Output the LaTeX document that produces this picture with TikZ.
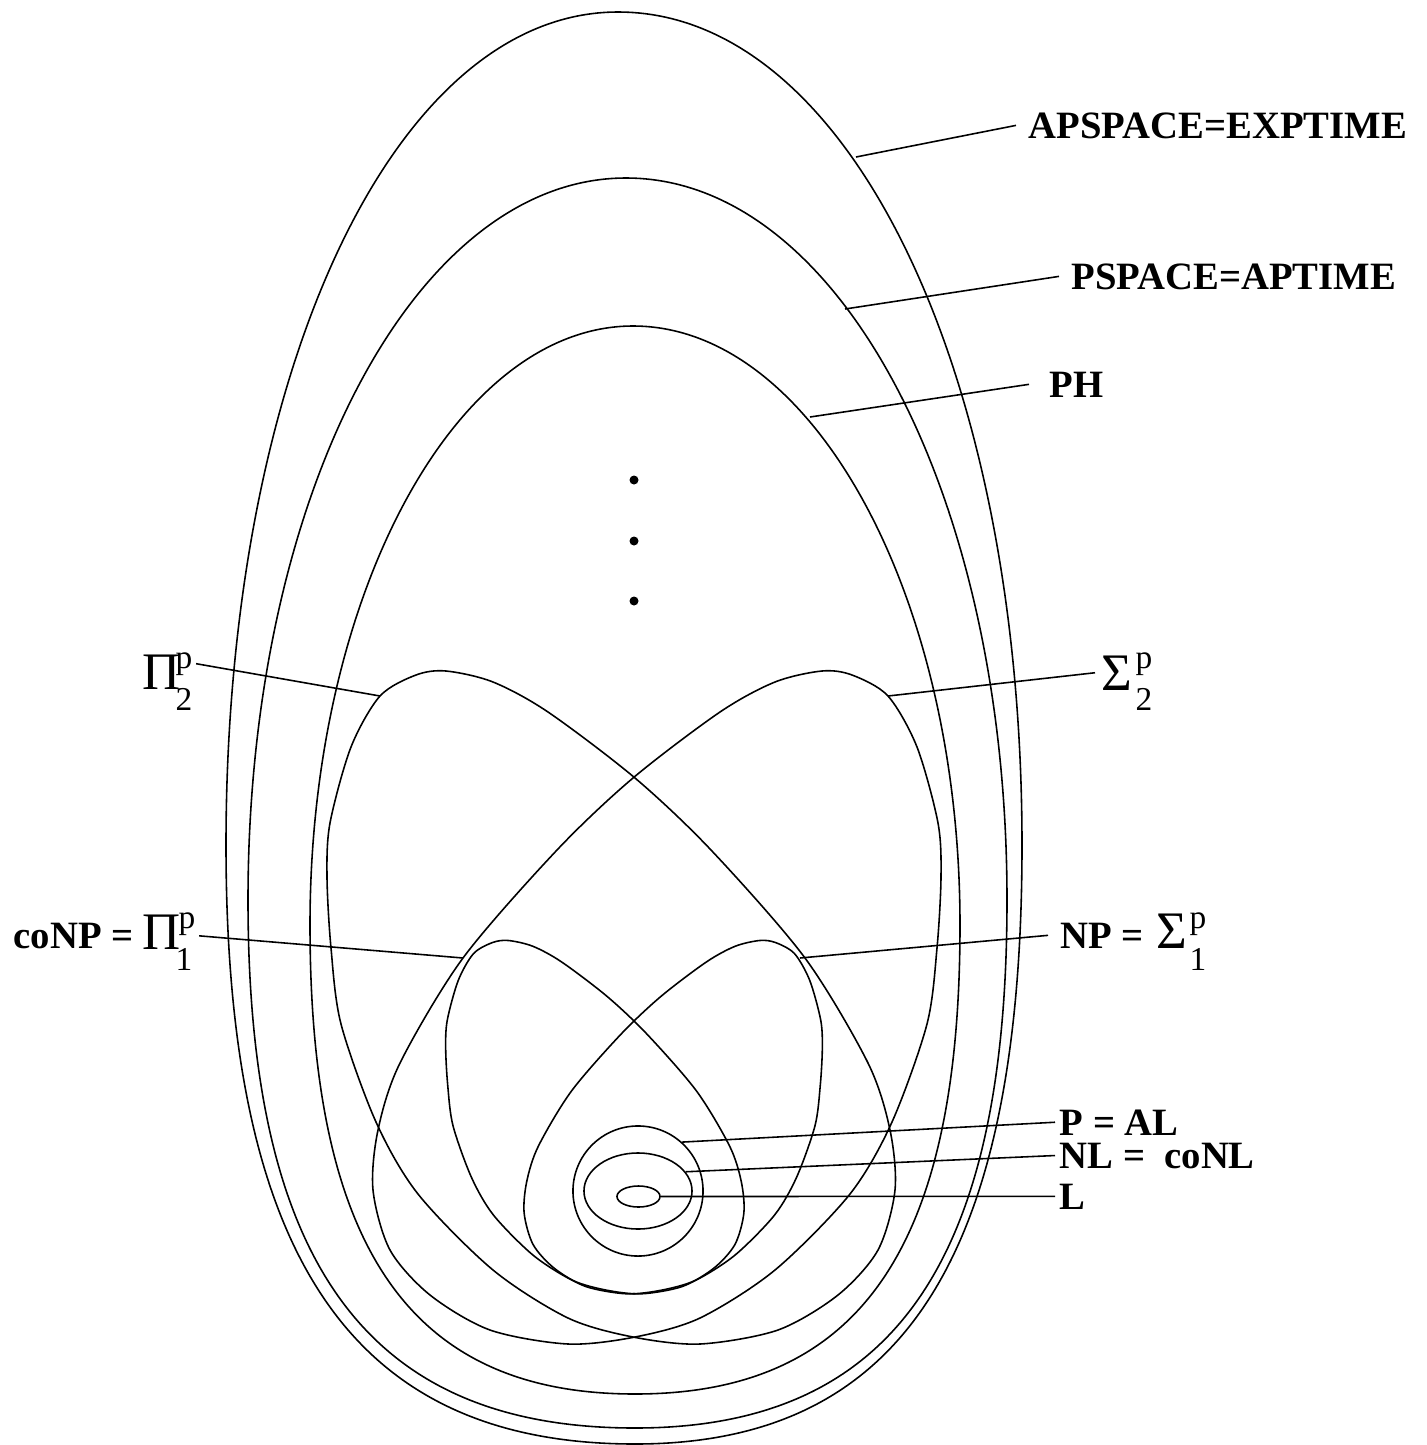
\documentclass[tikz,border=0pt]{standalone}
\usepackage{fontspec}
\setmainfont{Liberation Serif}
\usetikzlibrary{shapes.geometric}
% egg: top x, top y, left x, right x, widest y, bottom x, bottom y, upper and lower roundness
\newcommand{\egg}[9]{(#1,#2)
  .. controls ({#1+#8*(#4-#1)},#2) and (#4,{#5-#8*(#5-#2)}) .. (#4,#5)
  .. controls (#4,{#5+#9*(#7-#5)}) and ({#6+#9*(#4-#6)},#7) .. (#6,#7)
  .. controls ({#6-#9*(#6-#3)},#7) and (#3,{#5+#9*(#7-#5)}) .. (#3,#5)
  .. controls (#3,{#5-#8*(#5-#2)}) and ({#1-#8*(#1-#3)},#2) .. cycle}
% outline shared by Sigma_2, Pi_2, NP and coNP
\newcommand{\sigmaegg}{plot[smooth cycle] coordinates {
  (822,671) (852,675) (888,696) (917,747) (938,823) (941,877) (937,948)
  (927,1024) (892,1122) (850,1194) (775,1270) (700,1318) (635,1337)
  (568,1344) (490,1330) (430,1295) (390,1250) (373,1190) (378,1130)
  (400,1063) (463,958) (557,850) (633,778) (720,712) (775,682)}}
\tikzset{
  cc/egg/.style={line width=0.45pt},
  cc/lead/.style={line width=0.45pt},
  cc/ring/.style={draw, line width=0.45pt, inner sep=0pt},
  cc/label/.style={font=\bfseries\fontsize{11}{13}\selectfont, inner xsep=0.12cm, inner ysep=0.03cm},
  cc/sym/.style={font=\fontsize{15}{17}\selectfont, inner sep=0pt},
  cc/script/.style={font=\fontsize{9.5}{11}\selectfont, inner sep=0pt}
}

\begin{document}
\begin{tikzpicture}[x=0.01cm,y=-0.01cm]
  \useasboundingbox (0,0) rectangle (1427,1445);

  % APSPACE, PSPACE, PH
  \draw[cc/egg] \egg{618}{12}{226}{1022}{845}{635}{1444}{0.57}{0.69};
  \draw[cc/egg] \egg{626}{178}{248}{1007}{900}{635}{1428}{0.56}{0.69};
  \draw[cc/egg] \egg{633}{326}{310}{960}{925}{635}{1394}{0.55}{0.69};

  % second and first level
  \draw[cc/egg] \sigmaegg;
  \begin{scope}[shift={(1268,0)}, xscale=-1]
    \draw[cc/egg] \sigmaegg;
  \end{scope}
  \begin{scope}[shift={(763,941)}, scale=0.525, shift={(-828,-672)}]
    \draw[cc/egg] \sigmaegg;
  \end{scope}
  \begin{scope}[shift={(1268,0)}, xscale=-1, shift={(763,941)}, scale=0.525, shift={(-828,-672)}]
    \draw[cc/egg] \sigmaegg;
  \end{scope}

  % P, NL, L
  \node[cc/ring, circle, minimum size=1.3cm] (pal) at (638,1191) {};
  \node[cc/ring, ellipse, minimum width=1.08cm, minimum height=0.76cm] (nl) at (638,1191) {};
  \node[cc/ring, ellipse, minimum width=0.43cm, minimum height=0.21cm] (l) at (638.5,1196.5) {};

  % dots
  \foreach \y in {480,541,601}
    \fill (634,\y) circle [radius=0.045cm];

  % where the leaders touch
  \coordinate (aps-t) at (856,157);
  \coordinate (psp-t) at (845,309);
  \coordinate (ph-t) at (810,417);
  \coordinate (pitwo-t) at (380,696);
  \coordinate (sigtwo-t) at (888,696);
  \coordinate (pione-t) at (463,958);
  \coordinate (sigone-t) at (800,958);

  % labels
  \node[cc/label, anchor=base west] (apslab) at (1016,138) {APSPACE=EXPTIME};
  \node[cc/label, anchor=base west] (psplab) at (1059,289) {PSPACE=APTIME};
  \node[cc/label, anchor=base west, inner xsep=0.2cm] (phlab) at (1029,397) {PH};

  \node[cc/sym, anchor=base west] (pitwo) at (142,689) {Π};
  \node[cc/script, anchor=base west] (pitwop) at (175,668) {p};
  \node[cc/script, anchor=base west] (pitwoi) at (175,710) {2};
  \node[cc/sym, anchor=base west] (sigtwo) at (1101,690) {Σ};
  \node[cc/script, anchor=base west] (sigtwop) at (1135,668) {p};
  \node[cc/script, anchor=base west] (sigtwoi) at (1135,710) {2};

  \node[cc/label, anchor=base west] (conplab) at (1,948) {coNP =};
  \node[cc/sym, anchor=base west] (pione) at (142,949) {Π};
  \node[cc/script, anchor=base west] (pionep) at (178,928) {p};
  \node[cc/script, anchor=base west] (pionei) at (175,970) {1};
  \node[cc/label, anchor=base west] (nplab) at (1048,948) {NP =};
  \node[cc/sym, anchor=base west] (sigone) at (1156,948) {Σ};
  \node[cc/script, anchor=base west] (sigonep) at (1189,928) {p};
  \node[cc/script, anchor=base west] (sigonei) at (1189,970) {1};

  \node[cc/label, anchor=base west, inner xsep=0.04cm] (plab) at (1055,1135) {P = AL};
  \node[cc/label, anchor=base west, inner xsep=0.04cm] (nllab) at (1055,1168) {NL = \ coNL};
  \node[cc/label, anchor=base west, inner xsep=0.04cm] (llab) at (1055,1209) {L};

  % leaders
  \draw[cc/lead] (aps-t) -- (apslab.west);
  \draw[cc/lead] (psp-t) -- (psplab.west);
  \draw[cc/lead] (ph-t) -- (phlab.west);
  \draw[cc/lead] (pitwo-t) -- ([xshift=0.03cm]pitwop.east);
  \draw[cc/lead] (sigtwo-t) -- ([xshift=-0.06cm]sigtwo.west);
  \draw[cc/lead] (pione-t) -- ([xshift=0.03cm]pionep.south east);
  \draw[cc/lead] (sigone-t) -- (nplab.west);
  \draw[cc/lead] (pal.48) -- (plab.west);
  \draw[cc/lead] (nl.22) -- (nllab.west);
  \draw[cc/lead] (l.east) -- (llab.west);
\end{tikzpicture}
\end{document}
